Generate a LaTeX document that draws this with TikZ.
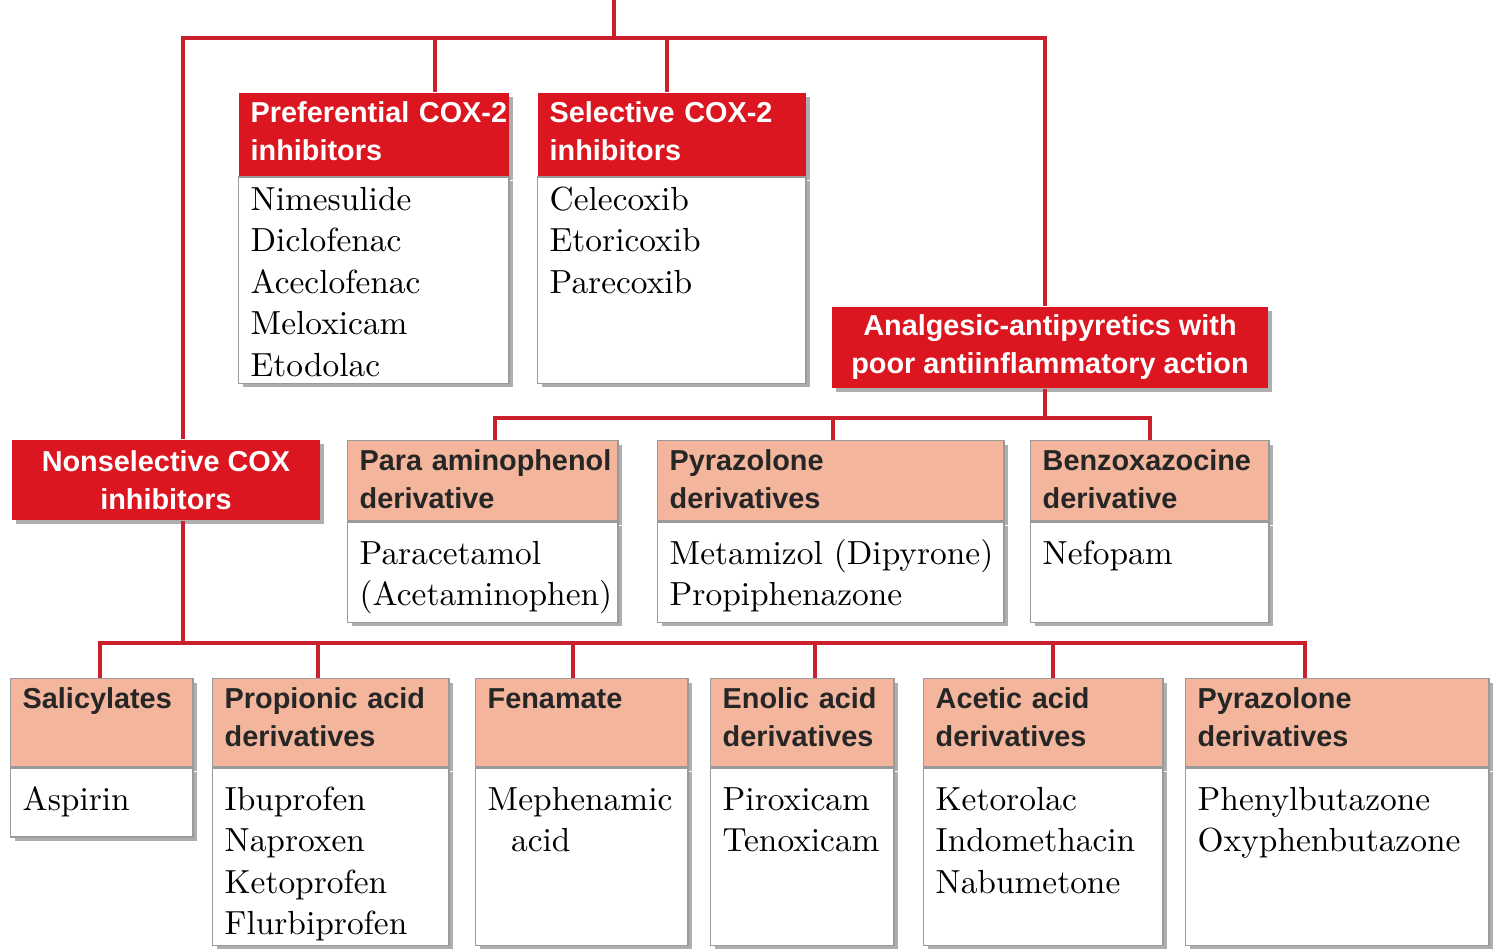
\documentclass[tikz,border=0pt]{standalone}
\usepackage{fontspec}
\setsansfont{Liberation Sans}
\usetikzlibrary{positioning,shadows}
\definecolor{coxred}{HTML}{DB1620}
\definecolor{linkred}{HTML}{C9202B}
\definecolor{salmon}{HTML}{F3B59C}
\definecolor{boxgray}{HTML}{9A9A9A}
\newcommand\hdfont{\fontsize{8.2}{10.8}\selectfont\sffamily\bfseries\hyphenpenalty=10000\exhyphenpenalty=10000}
\newcommand\bdfont{\fontsize{9.5}{11.8}\selectfont\hyphenpenalty=10000\exhyphenpenalty=10000}

\begin{document}
\begin{tikzpicture}[x=0.01cm,y=-0.01cm,
    link/.style={linkred,line width=1.15pt},
    shade box/.style={drop shadow={shadow xshift=1.1pt,shadow yshift=-1.1pt,fill=black!45,opacity=.7}},
    hdred/.style={anchor=north west,fill=coxred,text=white,font=\hdfont,align=left,
      inner xsep=0.12cm,inner ysep=0.08cm,text height=0.22cm,shade box},
    hdpink/.style={anchor=north west,fill=salmon,draw=boxgray,thin,text=black!85,font=\hdfont,align=left,
      inner xsep=0.12cm,inner ysep=0.08cm,text height=0.22cm,shade box},
    body/.style={fill=white,draw=boxgray,thin,font=\bdfont,align=left,
      inner xsep=0.12cm,inner ysep=0.1cm,text height=0.32cm,shade box},
    catred/.style={fill=coxred,text=white,font=\hdfont,align=center,inner sep=0pt,shade box}]
  \useasboundingbox (0,0) rectangle (1499,949);

  % junction points of the tree
  \coordinate (src) at (614,0);
  \coordinate (tl) at (183,38);
  \coordinate (tr) at (1045,38);
  \coordinate (p1) at (435,38);
  \coordinate (p2) at (667,38);
  \coordinate (ml) at (495,418);
  \coordinate (mr) at (1150,418);
  \coordinate (m2) at (833,418);
  \coordinate (bl) at (100,643);
  \coordinate (br) at (1305,643);

  % COX-2 groups
  \node[hdred,text width=2.46cm,text depth=0.45cm] (prefhd) at (238,92) {Preferential~COX-2\\inhibitors};
  \node[body,text width=2.46cm,text height=0.23cm,text depth=1.63cm,below=0pt of prefhd] (prefbd)
    {Nimesulide\\Diclofenac\\Aceclofenac\\Meloxicam\\Etodolac};
  \node[hdred,text width=2.44cm,text depth=0.45cm] (selhd) at (537,92) {Selective~COX-2\\inhibitors};
  \node[body,text width=2.44cm,text height=0.23cm,text depth=1.63cm,below=0pt of selhd] (selbd)
    {Celecoxib\\Etoricoxib\\Parecoxib};

  % main categories
  \node[catred,minimum width=4.36cm,minimum height=0.81cm] (analg) at (1050,347.5)
    {Analgesic-antipyretics with\\poor antiinflammatory action};
  \node[catred,minimum width=3.08cm,minimum height=0.80cm] (nonsel) at (166,480)
    {Nonselective COX\\inhibitors};

  % analgesic-antipyretics
  \node[hdpink,text width=2.46cm,text depth=0.42cm] (parahd) at (347,440) {Para~aminophenol\\derivative};
  \node[body,text width=2.46cm,text depth=0.48cm,below=0pt of parahd] (parabd)
    {Paracetamol\\(Acetaminophen)};
  \node[hdpink,text width=3.22cm,text depth=0.42cm] (pyrahd) at (657,440) {Pyrazolone\\derivatives};
  \node[body,text width=3.22cm,text depth=0.48cm,below=0pt of pyrahd] (pyrabd)
    {Metamizol~(Dipyrone)\\Propiphenazone};
  \node[hdpink,text width=2.14cm,text depth=0.42cm] (benzhd) at (1030,440) {Benzoxazocine\\derivative};
  \node[body,text width=2.14cm,text depth=0.48cm,below=0pt of benzhd] (benzbd) {Nefopam};

  % nonselective inhibitors
  \node[hdpink,text width=1.58cm,text depth=0.50cm] (salhd) at (10,678) {Salicylates};
  \node[body,text width=1.58cm,text depth=0.17cm,below=0pt of salhd] (salbd) {Aspirin};
  \node[hdpink,text width=2.12cm,text depth=0.50cm] (prophd) at (212,678) {Propionic~acid\\derivatives};
  \node[body,text width=2.12cm,text depth=1.25cm,below=0pt of prophd] (propbd)
    {Ibuprofen\\Naproxen\\Ketoprofen\\Flurbiprofen};
  \node[hdpink,text width=1.88cm,text depth=0.50cm] (fenhd) at (475,678) {Fenamate};
  \node[body,text width=1.88cm,text depth=1.25cm,below=0pt of fenhd] (fenbd)
    {Mephenamic\\\hspace*{0.7em}acid};
  \node[hdpink,text width=1.59cm,text depth=0.50cm] (enolhd) at (710,678) {Enolic~acid\\derivatives};
  \node[body,text width=1.59cm,text depth=1.25cm,below=0pt of enolhd] (enolbd)
    {Piroxicam\\Tenoxicam};
  \node[hdpink,text width=2.15cm,text depth=0.50cm] (acethd) at (923,678) {Acetic~acid\\derivatives};
  \node[body,text width=2.15cm,text depth=1.25cm,below=0pt of acethd] (acetbd)
    {Ketorolac\\Indomethacin\\Nabumetone};
  \node[hdpink,text width=2.79cm,text depth=0.50cm] (pyrbhd) at (1185,678) {Pyrazolone\\derivatives};
  \node[body,text width=2.79cm,text depth=1.25cm,below=0pt of pyrbhd] (pyrbbd)
    {Phenylbutazone\\Oxyphenbutazone};

  % connectors
  \draw[link] (src) -- (src |- tl);
  \draw[link] (nonsel.north -| tl) -- (tl) -- (tr) -- (tr |- analg.north);
  \draw[link] (p1) -- (p1 |- prefhd.north);
  \draw[link] (p2) -- (p2 |- selhd.north);
  \draw[link] (analg.south -| tr) -- (tr |- ml);
  \draw[link] (parahd.north -| ml) -- (ml) -- (mr) -- (mr |- benzhd.north);
  \draw[link] (m2) -- (m2 |- pyrahd.north);
  \draw[link] (nonsel.south -| tl) -- (tl |- bl);
  \draw[link] (salhd.north -| bl) -- (bl) -- (br) -- (br |- pyrbhd.north);
  \foreach \x/\n in {318/prop,573/fen,815/enol,1053/acet}{
    \coordinate (b\n) at (\x,643);
    \draw[link] (b\n) -- (b\n |- \n hd.north);
  }
\end{tikzpicture}
\end{document}
